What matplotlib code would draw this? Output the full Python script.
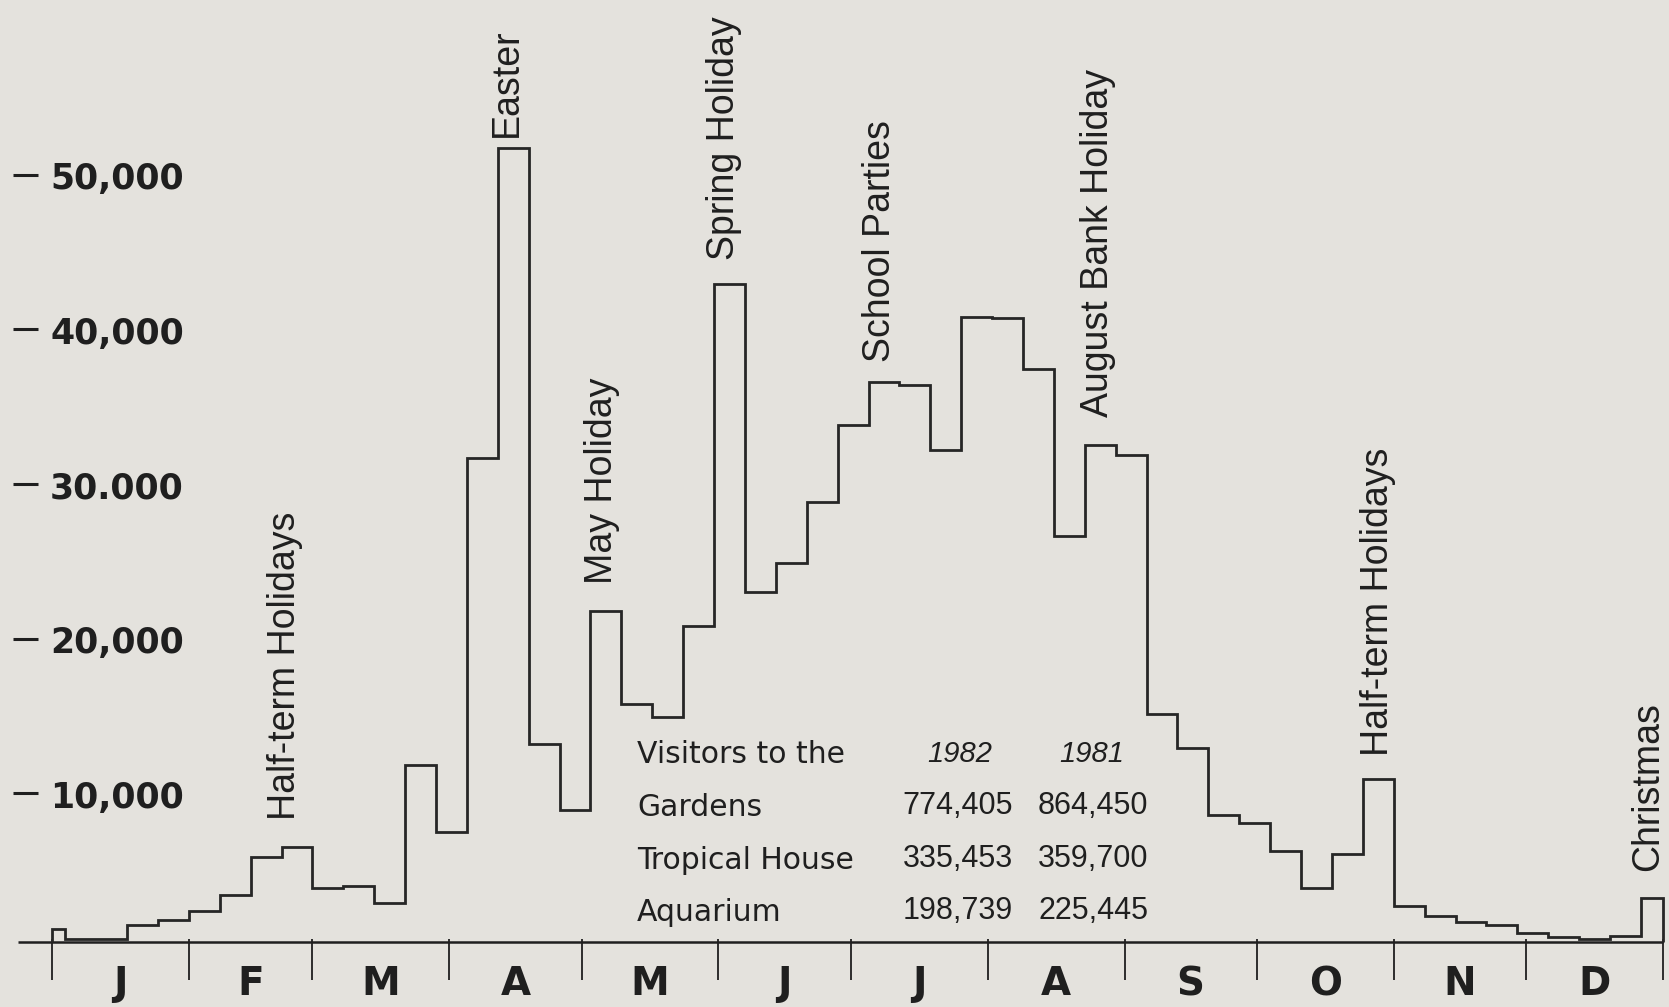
import matplotlib
matplotlib.use("Agg")
import matplotlib.pyplot as plt
from matplotlib.transforms import blended_transform_factory

# ---------------- data ----------------
months = ["J", "F", "M", "A", "M", "J", "J", "A", "S", "O", "N", "D"]
month_start_day = [0, 31, 59, 90, 120, 151, 181, 212, 243, 273, 304, 334, 365]

# weekly periods (partial first week, 51 full weeks, partial last week)
week_edges_day = [0] + list(range(3, 361, 7)) + [365]
weekly_visitors = [
    1200, 600, 600, 1500, 1800, 2400, 3400, 5900, 6500, 3900,
    4000, 2900, 11800, 7500, 31700, 51700, 13200, 8900, 21800, 15800,
    14900, 20800, 42900, 23000, 24900, 28800, 33800, 36600, 36400, 32200,
    40800, 40700, 37400, 26600, 32500, 31900, 15100, 12900, 8600, 8100,
    6300, 3900, 6100, 10900, 2700, 2100, 1700, 1500, 1000, 700,
    600, 800, 3200,
]

y_tick_values = [10000, 20000, 30000, 40000, 50000]
y_tick_labels = ["10,000", "20,000", "30.000", "40,000", "50,000"]

event_labels = ["Half-term Holidays", "Easter", "May Holiday", "Spring Holiday",
                "School Parties", "August Bank Holiday", "Half-term Holidays",
                "Christmas"]
event_day = [52.8, 103.1, 124.6, 152.2, 187.6, 237.0, 300.4, 361.6]
event_level = [8300, 52400, 23500, 44500, 37900, 34300, 12400, 5000]

table_title = "Visitors to the"
table_years = ["1982", "1981"]
table_rows = ["Gardens", "Tropical House", "Aquarium"]
visitors_1982 = ["774,405", "335,453", "198,739"]
visitors_1981 = ["864,450", "359,700", "225,445"]

# ---------------- layout ----------------
W, H = 1669, 1007
BG = "#e4e2dd"
INK = "#1f1f1f"
PX_PER_DAY = 1611 / 365
X0_PX = 52
PX_PER_UNIT = 0.01547
Y0_PX = 948
BASELINE = 400

fig = plt.figure(figsize=(W / 100, H / 100), dpi=100)
fig.patch.set_facecolor(BG)
ax = fig.add_axes([0, 0, 1, 1])
ax.set_facecolor(BG)
ax.set_xlim(-X0_PX / PX_PER_DAY, (W - X0_PX) / PX_PER_DAY)
ax.set_ylim(-(H - Y0_PX) / PX_PER_UNIT, Y0_PX / PX_PER_UNIT)
ax.axis("off")

# step line
ax.stairs(weekly_visitors, week_edges_day, baseline=BASELINE,
          color="#262626", lw=2.0, zorder=3)

# axis line and month ticks
ax.hlines(BASELINE, -7.7, 365, color=INK, lw=1.8, zorder=2)
ax.vlines(month_start_day, -2100, BASELINE + 150, color=INK, lw=1.3, zorder=2)

# month labels
trans_xd = blended_transform_factory(ax.transData, fig.transFigure)
for i, m in enumerate(months):
    mid = (month_start_day[i] + month_start_day[i + 1]) / 2
    ax.text(mid, 1 - 995 / H, m, transform=trans_xd, ha="center", va="baseline",
            fontsize=28, fontweight="bold", family="DejaVu Sans", color=INK)

# y scale: dash marks + bold labels
ax.hlines(y_tick_values, -8.8, -3.2, color=INK, lw=2.2)
for v, lab in zip(y_tick_values, y_tick_labels):
    ax.annotate(lab, (-0.45, v), xytext=(0, -10.4), textcoords="offset points",
                ha="left", va="baseline", fontsize=25, fontweight="bold",
                family="DejaVu Sans", color=INK)

# event annotations
for lab, d, v in zip(event_labels, event_day, event_level):
    ax.text(d, v, lab, rotation=90, ha="center", va="bottom", fontsize=27,
            family="Liberation Sans", color=INK)

# table
def ftext(xp, yp, s, **kw):
    fig.text(xp / W, 1 - yp / H, s, va="baseline", color=INK, **kw)

ftext(637, 763, table_title, ha="left", fontsize=21.5, family="DejaVu Sans")
ftext(960, 762, table_years[0], ha="center", fontsize=21, style="italic",
      family="Liberation Sans")
ftext(1092, 762, table_years[1], ha="center", fontsize=21, style="italic",
      family="Liberation Sans")
row_base = [816, 869, 921]
for r, name in enumerate(table_rows):
    ftext(637, row_base[r], name, ha="left", fontsize=21.5, family="DejaVu Sans")
    ftext(1013, row_base[r] - 2, visitors_1982[r], ha="right", fontsize=22,
          family="Liberation Sans")
    ftext(1148, row_base[r] - 2, visitors_1981[r], ha="right", fontsize=22,
          family="Liberation Sans")

fig.savefig("out.png", dpi=100, facecolor=BG)
